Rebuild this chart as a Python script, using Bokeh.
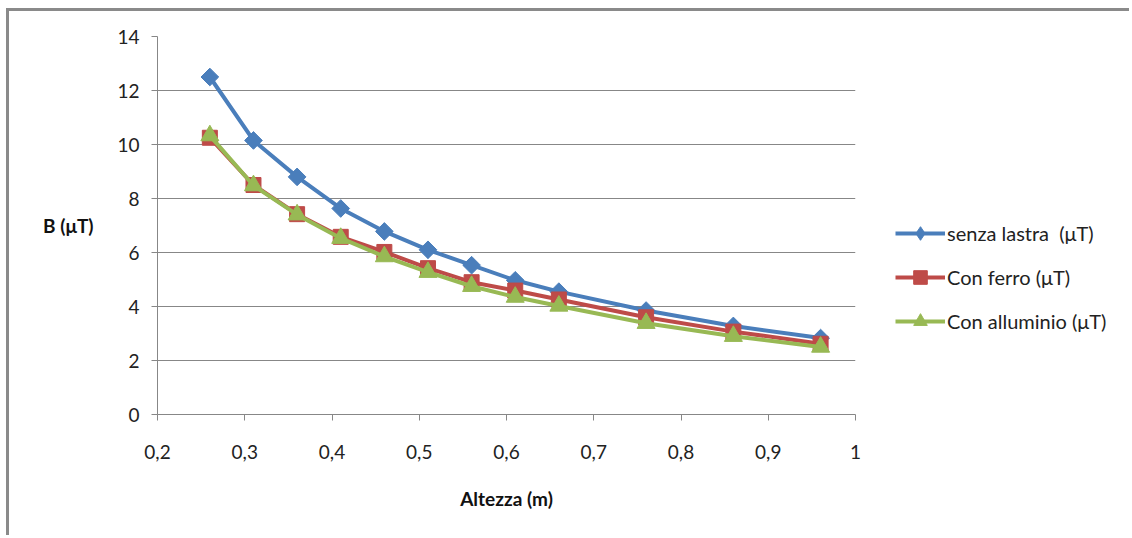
import math
from bokeh.plotting import figure
from bokeh.layouts import row
from bokeh.models import Legend, LegendItem, CustomJSTickFormatter, FixedTicker
from bokeh.embed import file_html
from bokeh.resources import INLINE

# Data
altezza = [0.26, 0.31, 0.36, 0.41, 0.46, 0.51, 0.56, 0.61, 0.66, 0.76, 0.86, 0.96]
senza_lastra = [12.5, 10.15, 8.8, 7.63, 6.78, 6.1, 5.53, 4.97, 4.55, 3.85, 3.28, 2.83]
con_ferro = [10.25, 8.5, 7.42, 6.58, 6.02, 5.42, 4.9, 4.59, 4.26, 3.6, 3.07, 2.62]
con_alluminio = [10.33, 8.48, 7.4, 6.53, 5.85, 5.27, 4.75, 4.35, 4.02, 3.38, 2.9, 2.5]
series_names = ["senza lastra  (\u03bcT)", "Con ferro (\u03bcT)", "Con alluminio (\u03bcT)"]
x_ticks = [0.2, 0.3, 0.4, 0.5, 0.6, 0.7, 0.8, 0.9, 1.0]
y_ticks = [0, 2, 4, 6, 8, 10, 12, 14]

FONT = "Lato"
GRID = "#878787"

p = figure(
    width=886, height=524,
    x_range=(0.2, 1.0), y_range=(0, 14),
    output_backend="svg", toolbar_location=None,
    min_border_left=148, min_border_top=25, min_border_right=40, min_border_bottom=121,
)
p.outline_line_color = None
p.background_fill_color = "white"
p.border_fill_color = "white"

fmt = CustomJSTickFormatter(code="""
if (Math.abs(tick - Math.round(tick)) < 1e-9) return String(Math.round(tick));
return tick.toFixed(1).replace('.', ',');
""")

p.xaxis.ticker = FixedTicker(ticks=x_ticks)
p.yaxis.ticker = FixedTicker(ticks=y_ticks)
p.xaxis.formatter = fmt
for ax in (p.xaxis, p.yaxis):
    ax.axis_line_color = GRID
    ax.major_tick_line_color = GRID
    ax.major_tick_in = 0
    ax.major_tick_out = 6
    ax.minor_tick_line_color = None
    ax.major_label_text_font = FONT
    ax.major_label_text_font_size = "19px"
    ax.major_label_text_color = "#222222"
    ax.axis_label_text_font = FONT
    ax.axis_label_text_font_size = "19px"
    ax.axis_label_text_font_style = "bold"
    ax.axis_label_text_color = "#111111"

p.xaxis.axis_label = "Altezza (m)"
p.xaxis.major_label_standoff = 24
p.xaxis.axis_label_standoff = 25
p.yaxis.axis_label = "B (\u03bcT)"
p.yaxis.axis_label_orientation = "horizontal"
p.yaxis.major_label_standoff = 12
p.yaxis.axis_label_standoff = 21

p.xgrid.grid_line_color = None
p.ygrid.grid_line_color = GRID
p.ygrid.grid_line_width = 1

colors = ["#4A7EBB", "#BE4B48", "#98B954"]
markers = ["square", "square", "triangle"]
legend_markers = ["diamond", "square", "triangle"]
angles = [math.pi / 4, 0, 0]
sizes = [12.5, 15, 18]
data = [senza_lastra, con_ferro, con_alluminio]

# Legend lives in a companion panel to the right of the plot area
lg = figure(
    width=234, height=524,
    x_range=(10, 11), y_range=(100, 101),
    output_backend="svg", toolbar_location=None,
    min_border_left=0, min_border_right=0, min_border_top=0, min_border_bottom=0,
)
lg.axis.visible = False
lg.grid.visible = False
lg.outline_line_color = None
lg.border_fill_color = "white"

items = []
for name, ys, c, m, lm, a, s in zip(series_names, data, colors, markers, legend_markers, angles, sizes):
    p.line(altezza, ys, line_color=c, line_width=4)
    p.scatter(altezza, ys, marker=m, angle=a, size=s, fill_color=c, line_color=c)
    l1 = lg.line(altezza, ys, line_color=c, line_width=4)
    l2 = lg.scatter(altezza, ys, marker=lm, size=s, fill_color=c, line_color=c)
    items.append(LegendItem(label=name, renderers=[l1, l2]))

legend = Legend(items=items, location=(0, 76))
legend.border_line_color = None
legend.background_fill_alpha = 0
legend.padding = 0
legend.margin = 0
legend.glyph_width = 50
legend.glyph_height = 34
legend.label_height = 34
legend.spacing = 10
legend.label_standoff = 2
legend.label_text_font = FONT
legend.label_text_font_size = "20px"
legend.label_text_color = "#222222"
lg.add_layout(legend, "center")

layout = row(p, lg, spacing=0,
             styles={"margin-left": "6px", "margin-top": "8px",
                     "border-left": "3px solid #8a8a8a", "border-top": "3px solid #8a8a8a"})

open("out.html", "w").write(file_html(layout, INLINE))
